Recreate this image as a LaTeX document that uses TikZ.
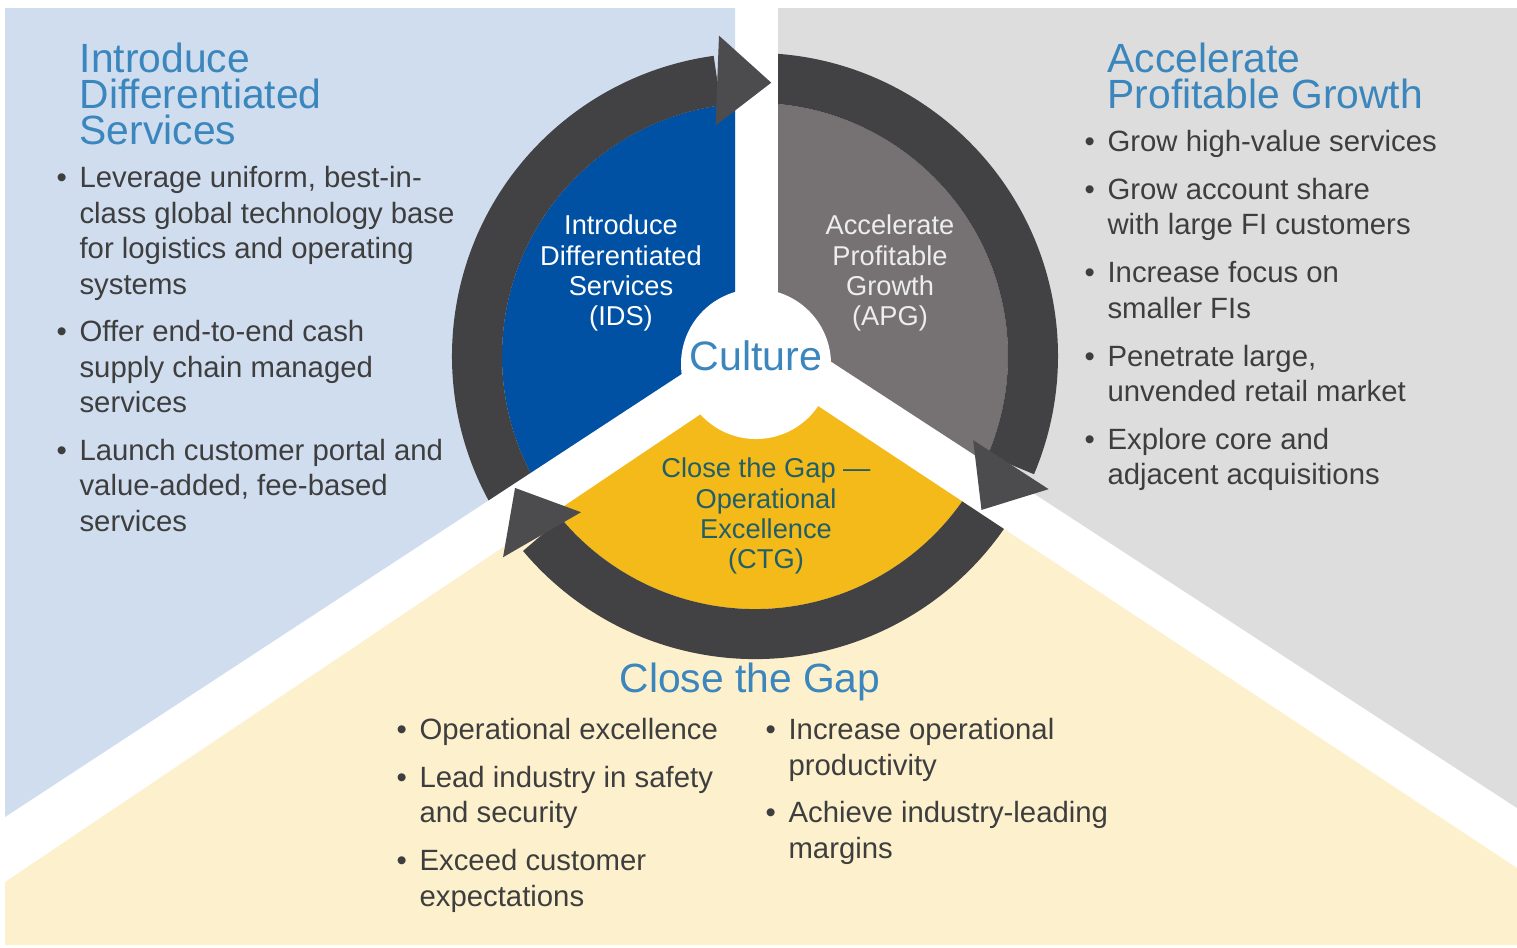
\documentclass[tikz,border=0pt]{standalone}
\usepackage{fontspec}
\setmainfont{Liberation Sans}
\usetikzlibrary{calc}

\definecolor{bgblue}{RGB}{207,221,239}
\definecolor{bggray}{RGB}{221,221,221}
\definecolor{bgyellow}{RGB}{253,240,205}
\definecolor{idsblue}{RGB}{0,81,163}
\definecolor{apggray}{RGB}{118,114,116}
\definecolor{ctgyellow}{RGB}{243,186,25}
\definecolor{ringgray}{RGB}{66,66,68}
\definecolor{headgray}{RGB}{76,76,79}
\definecolor{titleblue}{RGB}{58,134,189}
\definecolor{bodytext}{RGB}{62,62,62}
\definecolor{ctgtext}{RGB}{33,94,104}

\begin{document}
\begin{tikzpicture}[x=0.01cm, y=-0.01cm,
    ring/.style={draw=ringgray, line width=0.5cm},
    head/.style={fill=headgray},
    title/.style={font=\fontsize{11.6}{10.3}\selectfont, text=titleblue,
                  inner sep=0pt, align=left, anchor=north west},
    list/.style={font=\fontsize{8.34}{10.1}\selectfont, text=bodytext,
                 inner sep=0pt, anchor=north west},
    sector/.style={font=\fontsize{7.75}{8.55}\selectfont, align=center,
                   inner sep=0pt}
]
\useasboundingbox (0,0) rectangle (1517,947);
\fill[white] (0,0) rectangle (1517,947);

\coordinate (c)   at (755,356);   % wheel centre
\coordinate (cul) at (756,364);   % culture centre

% ---- Background regions ----
\fill[bgblue]   (5,8) -- (735,8) -- (735,339) -- (5,817) -- cycle;
\fill[bggray]   (778,8) -- (1517,8) -- (1517,808) -- (778,327) -- cycle;
\fill[bgyellow] (5,882) -- (765,371) -- (1517,868) -- (1517,945)
                -- (5,945) -- cycle;

% ---- Wheel: sectors and ring arcs ----
\begin{scope}
  \clip (5,8) -- (735,8) -- (735,339) -- (5,817) -- cycle;
  \fill[idsblue] (c) circle[radius=253];
  \draw[ring] ([shift={(140:278)}]c) arc[start angle=140, end angle=262.2,
              radius=278];
\end{scope}
\begin{scope}
  \clip (778,8) -- (1517,8) -- (1517,808) -- (778,327) -- cycle;
  \fill[apggray] (c) circle[radius=253];
  \draw[ring] ([shift={(265:278)}]c) arc[start angle=265, end angle=383,
              radius=278];
\end{scope}
\begin{scope}
  \clip (5,882) -- (765,371) -- (1517,868) -- (1517,945) -- (5,945) -- cycle;
  \fill[ctgyellow] (c) circle[radius=253];
  \draw[ring] ([shift={(15:278)}]c) arc[start angle=15, end angle=140,
              radius=278];
\end{scope}

% arrow heads
\fill[head] ($(c)+(262.2:278)+(272.2:45)$) -- ($(c)+(262.2:278)+(2.2:54)$)
            -- ($(c)+(262.2:278)+(92.2:45)$) -- cycle;
\fill[head] ($(c)+(23:278)+(33:45)$) -- ($(c)+(23:278)+(123:54)$)
            -- ($(c)+(23:278)+(213:45)$) -- cycle;
\fill[head] ($(c)+(140:278)+(150:45)$) -- ($(c)+(140:278)+(240:54)$)
            -- ($(c)+(140:278)+(330:45)$) -- cycle;

% culture hub
\fill[white] (cul) circle[radius=75];
\node[font=\fontsize{11.7}{12}\selectfont, text=titleblue] (cult)
      at (756,356) {Culture};

% ---- Sector labels ----
\node[sector, text=white] (ids) at (621,273)
      {Introduce\\Differentiated\\Services\\(IDS)};
\node[sector, text=white!93!black] (apg) at (890,273)
      {Accelerate\\Profitable\\Growth\\(APG)};
\node[sector, text=ctgtext] (ctg) at (766,516)
      {Close the Gap \textemdash\\Operational\\Excellence\\(CTG)};

% ---- Titles ----
\node[title] (idst) at (79,42) {Introduce\\Differentiated\\Services};
\node[title] (apgt) at (1107,42) {Accelerate\\Profitable Growth};
\node[title, anchor=base] (ctgt) at (750,692) {Close the Gap};

% ---- Bullet lists ----
\node[list] (idsl) at (56,162) {\begin{tabular}{@{}p{6.5pt}@{}l@{}}
  \textbullet & Leverage uniform, best-in-\\
              & class global technology base\\
              & for logistics and operating\\
              & systems\\[3.4pt]
  \textbullet & Offer end-to-end cash\\
              & supply chain managed\\
              & services\\[3.4pt]
  \textbullet & Launch customer portal and\\
              & value-added, fee-based\\
              & services
\end{tabular}};

\node[list] (apgl) at (1084,126) {\begin{tabular}{@{}p{6.5pt}@{}l@{}}
  \textbullet & Grow high-value services\\[3.5pt]
  \textbullet & Grow account share\\
              & with large FI customers\\[3.5pt]
  \textbullet & Increase focus on\\
              & smaller FIs\\[3.5pt]
  \textbullet & Penetrate large,\\
              & unvended retail market\\[3.5pt]
  \textbullet & Explore core and\\
              & adjacent acquisitions
\end{tabular}};

\node[list] (ctgl) at (396,714) {\begin{tabular}{@{}p{6.5pt}@{}l@{}}
  \textbullet & Operational excellence\\[3.5pt]
  \textbullet & Lead industry in safety\\
              & and security\\[3.5pt]
  \textbullet & Exceed customer\\
              & expectations
\end{tabular}};

\node[list] (ctgr) at (765,714) {\begin{tabular}{@{}p{6.5pt}@{}l@{}}
  \textbullet & Increase operational\\
              & productivity\\[3.5pt]
  \textbullet & Achieve industry-leading\\
              & margins
\end{tabular}};

\end{tikzpicture}
\end{document}
